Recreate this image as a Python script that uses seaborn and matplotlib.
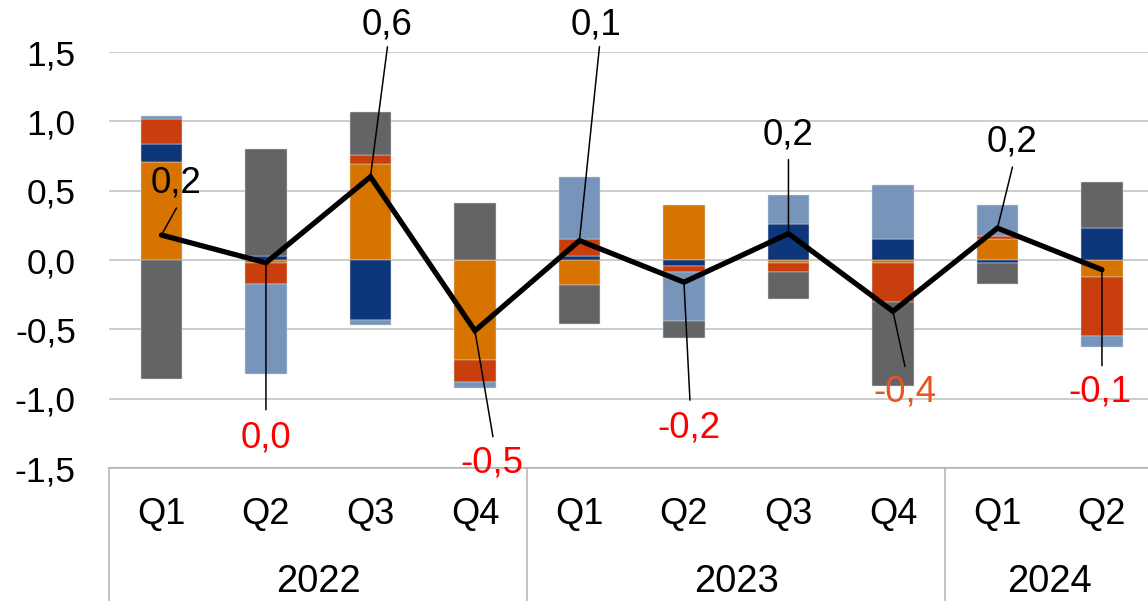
import numpy as np
import matplotlib
matplotlib.use("Agg")
import matplotlib.pyplot as plt
import matplotlib.transforms as mtransforms
import seaborn as sns

# ---- data -------------------------------------------------------------
periods = ["2022Q1", "2022Q2", "2022Q3", "2022Q4",
           "2023Q1", "2023Q2", "2023Q3", "2023Q4",
           "2024Q1", "2024Q2"]
quarters = ["Q1", "Q2", "Q3", "Q4", "Q1", "Q2", "Q3", "Q4", "Q1", "Q2"]
years = ["2022", "2023", "2024"]
quarters_per_year = [4, 4, 2]

# contributions (percentage points), in stacking order
orange_part = [0.71, -0.02, 0.69, -0.72, -0.18, 0.40, -0.02, -0.02, 0.15, -0.12]
navy_part = [0.13, 0.03, -0.43, 0.00, 0.03, -0.04, 0.26, 0.15, -0.02, 0.23]
red_part = [0.18, -0.15, 0.07, -0.16, 0.12, -0.05, -0.07, -0.28, 0.02, -0.43]
steel_part = [0.02, -0.65, -0.04, -0.04, 0.45, -0.35, 0.21, 0.39, 0.23, -0.08]
grey_part = [-0.86, 0.77, 0.31, 0.41, -0.28, -0.12, -0.19, -0.61, -0.15, 0.33]

# total change (line)
totals = [0.18, -0.02, 0.60, -0.51, 0.14, -0.16, 0.19, -0.37, 0.23, -0.07]

y_ticks = [-1.5, -1.0, -0.5, 0.0, 0.5, 1.0, 1.5]
y_tick_labels = ["-1,5", "-1,0", "-0,5", "0,0", "0,5", "1,0", "1,5"]

# ---- style ------------------------------------------------------------
series = [
    (orange_part, "#D77400"),
    (navy_part, "#0E367A"),
    (red_part, "#C83E0C"),
    (steel_part, "#7795BA"),
    (grey_part, "#636466"),
]

# label placement: (text dx, text dy, leader dx, leader dy) in pixels
label_offsets = [
    (15, 52, 15, 27),
    (0, -175, 0, -147),
    (17, 152, 17, 130),
    (17, -132, 18, -106),
    (17, 216, 20, 194),
    (5, -146, 6, -118),
    (0, 99, 0, 74),
    (12, -81, 12, -55),
    (15, 86, 15, 61),
    (-2, -122, 0, -96),
]
label_colors = ["black", "#FF0000", "black", "#FF0000", "black",
                "#FF0000", "black", "#EB541E", "black", "#FF0000"]

sns.set_theme(style="white")
plt.rcParams["font.family"] = ["Liberation Sans", "DejaVu Sans"]

fig = plt.figure(figsize=(11.48, 6.01), dpi=100)
ax = fig.add_axes([109.2 / 1148, 133 / 601, 1045 / 1148, 416 / 601])

# ---- stacked bars (positives stack up, negatives stack down) ----------
pos_base = np.zeros(len(periods))
neg_base = np.zeros(len(periods))
for values, color in series:
    v = np.asarray(values, dtype=float)
    bottom = np.where(v >= 0, pos_base, neg_base)
    sns.barplot(x=periods, y=v, order=periods, bottom=bottom, color=color,
                saturation=1, width=0.4, errorbar=None, ax=ax,
                edgecolor="#D8D8D8", linewidth=0.35, zorder=2)
    pos_base = pos_base + np.where(v >= 0, v, 0)
    neg_base = neg_base + np.where(v < 0, v, 0)

# ---- total line -------------------------------------------------------
xpos = np.arange(len(periods))
sns.lineplot(x=xpos, y=totals, color="black", linewidth=3.8, sort=False,
             ax=ax, zorder=4, solid_joinstyle="miter")

# ---- value labels with leader lines -----------------------------------
for i, v in enumerate(totals):
    tdx, tdy, ldx, ldy = label_offsets[i]
    text = f"{round(v, 1) + 0.0:.1f}".replace(".", ",")
    ax.annotate("", xy=(i, v), xytext=(ldx, ldy), textcoords="offset pixels",
                arrowprops=dict(arrowstyle="-", color="black", lw=1.1,
                                shrinkA=0, shrinkB=0),
                zorder=5, annotation_clip=False)
    ax.annotate(text, xy=(i, v), xytext=(tdx, tdy), textcoords="offset pixels",
                ha="center", va="center", fontsize=26.5,
                color=label_colors[i], zorder=6, annotation_clip=False)

# ---- axes -------------------------------------------------------------
ax.set_xlim(-0.5, len(periods) - 0.5)
ax.set_ylim(-1.5, 1.5)
ax.set_yticks(y_ticks, labels=y_tick_labels)
ax.set_xticks(xpos, labels=quarters)
ax.tick_params(axis="y", length=0, pad=24, labelsize=25.5, colors="black")
ax.tick_params(axis="x", length=0, pad=21, labelsize=26, colors="black")
ax.set_xlabel("")
ax.set_ylabel("")
ax.yaxis.grid(True, color="#BFBFBF", linewidth=1.1)
ax.xaxis.grid(False)
ax.set_axisbelow(True)
for s in ax.spines.values():
    s.set_visible(False)

# category table below the plot: year separators and year labels
trans = mtransforms.blended_transform_factory(ax.transData, ax.transAxes)
edges = np.concatenate([[0], np.cumsum(quarters_per_year)]) - 0.5
for e in edges:
    ax.plot([e, e], [0, -0.34], transform=trans, color="#B0B0B0", lw=1.1,
            clip_on=False, zorder=1)
ax.plot([edges[0], edges[-1]], [0, 0], transform=trans, color="#B0B0B0",
        lw=1.1, clip_on=False, zorder=1)
for k, yr in enumerate(years):
    center = (edges[k] + edges[k + 1]) / 2
    ax.text(center, -(592 - 468) / 416, yr, transform=trans, ha="center",
            va="baseline", fontsize=27.5, color="black")

fig.savefig("out.png", dpi=100)
